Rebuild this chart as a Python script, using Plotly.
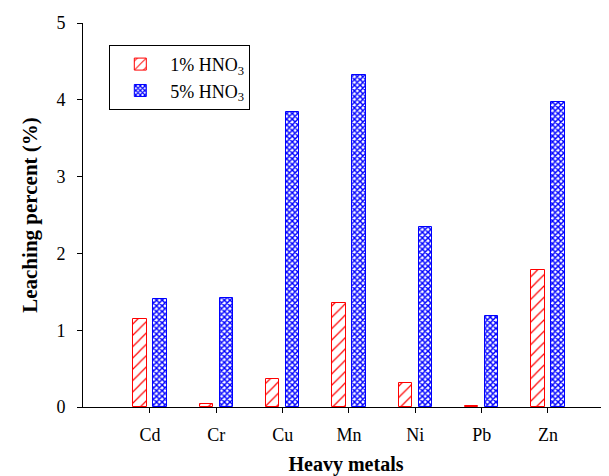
import plotly.graph_objects as go

metals = ["Cd", "Cr", "Cu", "Mn", "Ni", "Pb", "Zn"]
hno3_1 = [1.15, 0.04, 0.37, 1.36, 0.31, 0.01, 1.78]
hno3_5 = [1.40, 1.42, 3.84, 4.32, 2.34, 1.18, 3.97]
y_ticks = [0, 1, 2, 3, 4, 5]

font_family = "Liberation Serif, Times New Roman, serif"

fig = go.Figure()
fig.add_trace(go.Bar(
    x=metals, y=hno3_1, name="1% HNO<sub>3</sub>",
    width=0.2, offset=-0.25,
    marker=dict(color="white", line=dict(color="red", width=1),
                pattern=dict(shape="/", fgcolor="red", bgcolor="white",
                             size=8, solidity=0.15, fillmode="replace")),
))
fig.add_trace(go.Bar(
    x=metals, y=hno3_5, name="5% HNO<sub>3</sub>",
    width=0.2, offset=0.05,
    marker=dict(color="blue", line=dict(color="blue", width=1),
                pattern=dict(shape="x", fgcolor="blue", bgcolor="white",
                             size=4, solidity=0.6, fillmode="replace")),
))

fig.update_layout(
    width=601, height=468,
    margin=dict(l=75, r=0, t=15, b=69),
    paper_bgcolor="white", plot_bgcolor="white",
    font=dict(family=font_family, size=18, color="black"),
    showlegend=True,
    bargap=0,
    legend=dict(x=0.05, y=0.943, xanchor="left", yanchor="top",
                bordercolor="black", borderwidth=1, bgcolor="white",
                itemwidth=50,
                font=dict(family=font_family, size=18)),
    xaxis=dict(
        type="category", range=[-1.01, 6.92], automargin=False,
        showline=True, linecolor="black", linewidth=1,
        ticks="outside", ticklen=5, tickcolor="black",
        ticklabelstandoff=6,
        showgrid=False, zeroline=False,
        title=dict(text="<b>Heavy metals</b>", font=dict(size=20, family=font_family), standoff=14),
        tickfont=dict(size=18, family=font_family),
    ),
    yaxis=dict(
        range=[0, 5], tickvals=y_ticks, automargin=False,
        showline=True, linecolor="black", linewidth=1,
        ticks="outside", ticklen=5, tickcolor="black",
        ticklabelstandoff=8,
        showgrid=False, zeroline=False,
        title=dict(text="<b>Leaching percent (%)</b>", font=dict(size=21, family=font_family), standoff=13),
        tickfont=dict(size=18, family=font_family),
    ),
)

fig.write_html("out.html")
